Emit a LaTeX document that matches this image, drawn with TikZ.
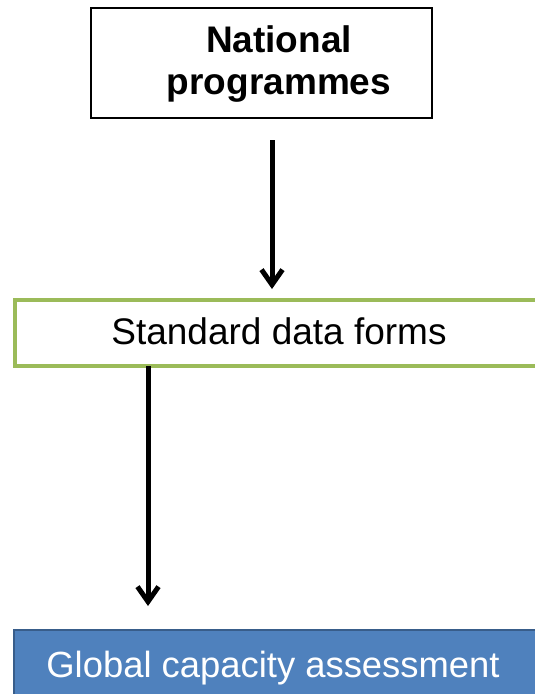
\documentclass[tikz,border=0pt]{standalone}
\usepackage{fontspec}
\setmainfont{Liberation Sans}
\usetikzlibrary{arrows.meta}
\definecolor{boxgreen}{HTML}{9BBB59}
\definecolor{boxblue}{HTML}{4F81BD}
\definecolor{boxblueedge}{HTML}{385D8A}
\begin{document}
\begin{tikzpicture}[x=1pt,y=-1pt,
  label37/.style={font=\fontsize{37}{42}\selectfont, inner sep=0pt, align=center},
  flowarrow/.style={line width=5pt, -{Straight Barb[length=15pt,width=21pt,line width=5pt]}},
  panel/.style={rectangle, inner sep=0pt, anchor=north west}]
  \useasboundingbox (0,0) rectangle (535,694);
  % source box
  \node[panel, draw=black, line width=2pt, minimum width=341pt, minimum height=110pt] (src) at (90,7) {};
  \node[label37, font=\bfseries\fontsize{37}{42}\selectfont] (srctext) at (279,64.5) {National\\programmes};
  % forms box
  \node[panel, draw=boxgreen, line width=3.5pt, minimum width=540pt, minimum height=66pt] (forms) at (13,298) {};
  \node[label37, anchor=base] (formstext) at (279,344) {Standard data forms};
  % assessment box
  \node[panel, draw=boxblueedge, fill=boxblue, line width=2pt, minimum width=540pt, minimum height=80pt] (glob) at (13,629) {};
  \node[label37, font=\fontsize{36.4}{42}\selectfont, anchor=base, text=white] (globtext) at (273,677) {Global capacity assessment};
  % connectors
  \coordinate (a1s) at (272,140);
  \coordinate (a1e) at (272,289);
  \coordinate (a2s) at (148,366);
  \coordinate (a2e) at (148,606);
  \draw[flowarrow] (a1s) -- (a1e);
  \draw[flowarrow] (a2s) -- (a2e);
\end{tikzpicture}
\end{document}
